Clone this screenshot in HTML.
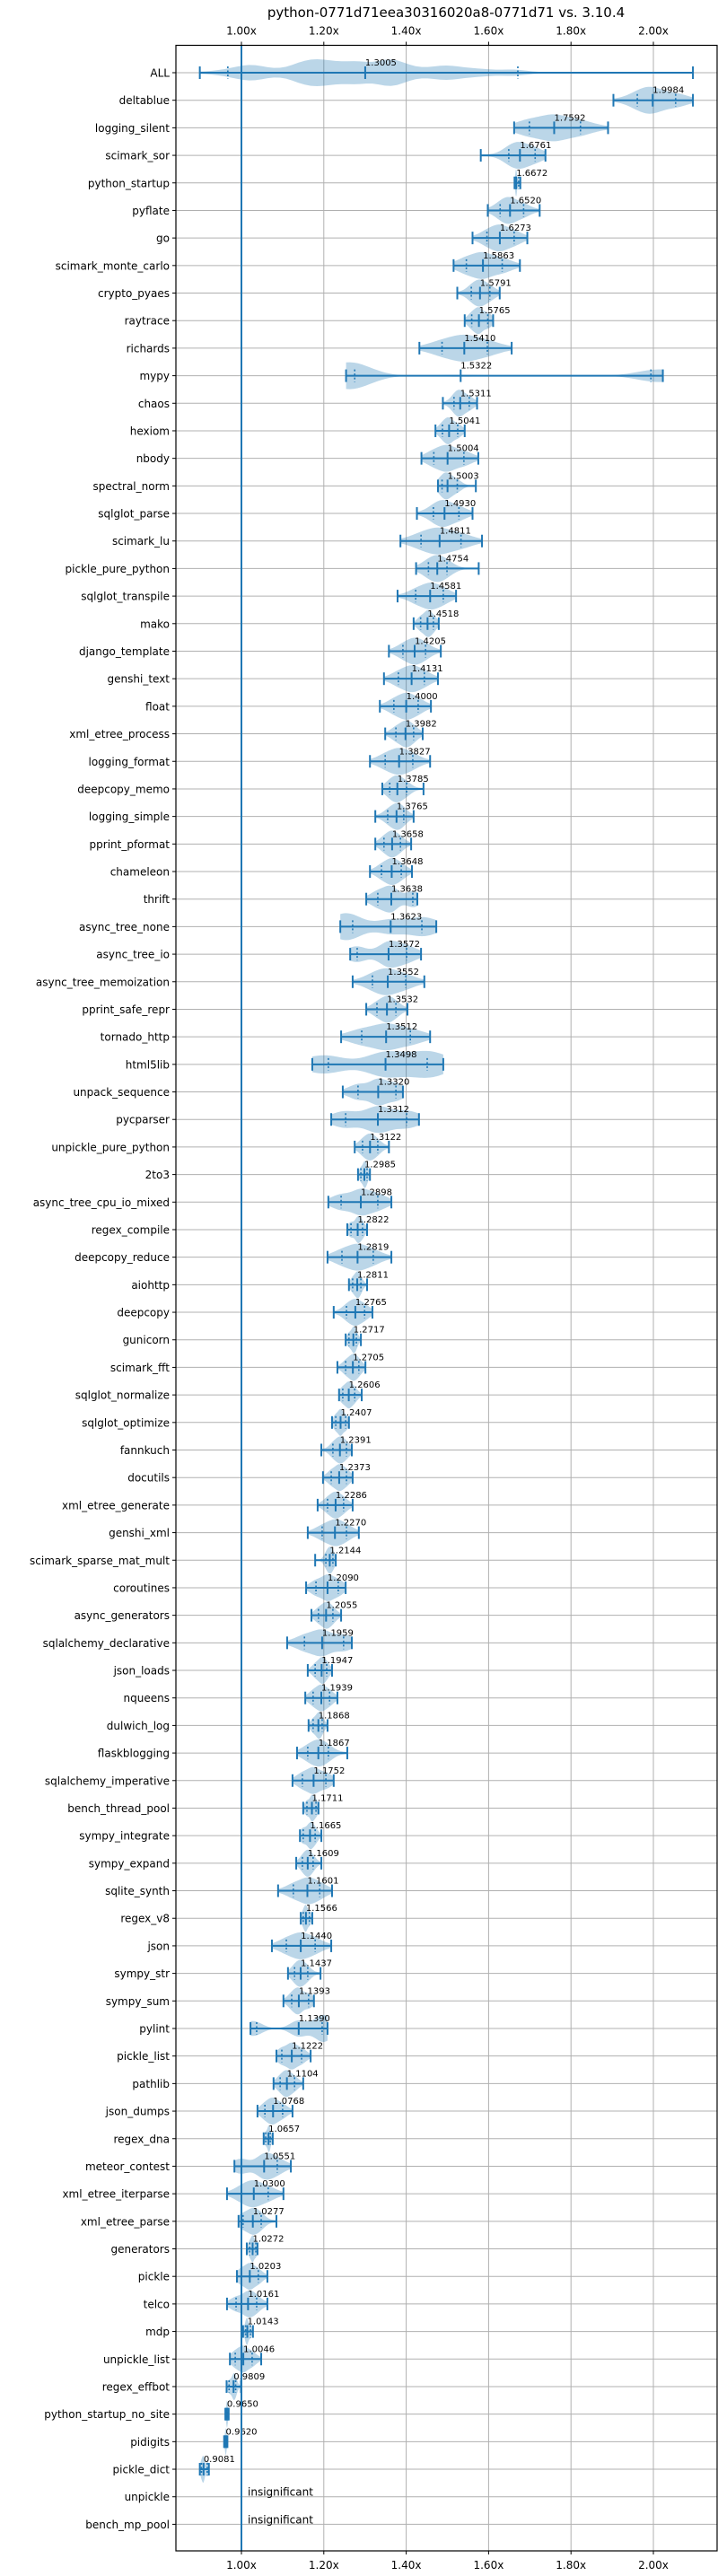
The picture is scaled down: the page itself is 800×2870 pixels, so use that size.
<!DOCTYPE html>
<html><head><meta charset="utf-8">
<style>
html,body{margin:0;padding:0;background:#fff;}
svg{display:block;font-family:"DejaVu Sans","Liberation Sans",sans-serif;}
</style></head>
<body>
<svg id="chart" width="800" height="2870" viewBox="0 0 800 2870" xmlns="http://www.w3.org/2000/svg">
<text x="497" y="19" text-anchor="middle" font-size="15" fill="#000">python-0771d71eea30316020a8-0771d71 vs. 3.10.4</text>
<g id="grid"></g>
<g id="marks"></g>
<g id="axes"></g>
</svg>
<script>
const names = ["ALL","deltablue","logging_silent","scimark_sor","python_startup","pyflate","go","scimark_monte_carlo","crypto_pyaes","raytrace","richards","mypy","chaos","hexiom","nbody","spectral_norm","sqlglot_parse","scimark_lu","pickle_pure_python","sqlglot_transpile","mako","django_template","genshi_text","float","xml_etree_process","logging_format","deepcopy_memo","logging_simple","pprint_pformat","chameleon","thrift","async_tree_none","async_tree_io","async_tree_memoization","pprint_safe_repr","tornado_http","html5lib","unpack_sequence","pycparser","unpickle_pure_python","2to3","async_tree_cpu_io_mixed","regex_compile","deepcopy_reduce","aiohttp","deepcopy","gunicorn","scimark_fft","sqlglot_normalize","sqlglot_optimize","fannkuch","docutils","xml_etree_generate","genshi_xml","scimark_sparse_mat_mult","coroutines","async_generators","sqlalchemy_declarative","json_loads","nqueens","dulwich_log","flaskblogging","sqlalchemy_imperative","bench_thread_pool","sympy_integrate","sympy_expand","sqlite_synth","regex_v8","json","sympy_str","sympy_sum","pylint","pickle_list","pathlib","json_dumps","regex_dna","meteor_contest","xml_etree_iterparse","xml_etree_parse","generators","pickle","telco","mdp","unpickle_list","regex_effbot","python_startup_no_site","pidigits","pickle_dict","unpickle","bench_mp_pool"];
const medians = [1.3005,1.9984,1.7592,1.6761,1.6672,1.6520,1.6273,1.5863,1.5791,1.5765,1.5410,1.5322,1.5311,1.5041,1.5004,1.5003,1.4930,1.4811,1.4754,1.4581,1.4518,1.4205,1.4131,1.4000,1.3982,1.3827,1.3785,1.3765,1.3658,1.3648,1.3638,1.3623,1.3572,1.3552,1.3532,1.3512,1.3498,1.3320,1.3312,1.3122,1.2985,1.2898,1.2822,1.2819,1.2811,1.2765,1.2717,1.2705,1.2606,1.2407,1.2391,1.2373,1.2286,1.2270,1.2144,1.2090,1.2055,1.1959,1.1947,1.1939,1.1868,1.1867,1.1752,1.1711,1.1665,1.1609,1.1601,1.1566,1.1440,1.1437,1.1393,1.1390,1.1222,1.1104,1.0768,1.0657,1.0551,1.0300,1.0277,1.0272,1.0203,1.0161,1.0143,1.0046,0.9809,0.9650,0.9620,0.9081,null,null];
const mins = [0.899,1.903,1.662,1.581,1.663,1.598,1.561,1.515,1.524,1.542,1.432,1.254,1.489,1.471,1.437,1.477,1.426,1.386,1.424,1.379,1.418,1.358,1.346,1.336,1.349,1.312,1.342,1.325,1.325,1.312,1.303,1.240,1.264,1.270,1.303,1.242,1.172,1.246,1.218,1.275,1.283,1.211,1.257,1.209,1.261,1.224,1.253,1.233,1.237,1.220,1.194,1.198,1.185,1.161,1.179,1.157,1.170,1.111,1.161,1.155,1.163,1.135,1.124,1.150,1.142,1.133,1.089,1.144,1.074,1.113,1.102,1.022,1.085,1.078,1.039,1.054,0.983,0.965,0.993,1.013,0.989,0.965,1.004,0.972,0.964,0.961,0.958,0.899,null,null];
const maxs = [2.096,2.096,1.890,1.738,1.677,1.724,1.694,1.676,1.627,1.611,1.656,2.023,1.572,1.542,1.575,1.569,1.561,1.584,1.576,1.521,1.479,1.484,1.477,1.460,1.440,1.458,1.442,1.418,1.412,1.414,1.427,1.473,1.436,1.444,1.403,1.458,1.490,1.392,1.431,1.358,1.312,1.364,1.305,1.364,1.305,1.318,1.290,1.301,1.292,1.261,1.268,1.270,1.270,1.285,1.229,1.253,1.242,1.268,1.220,1.233,1.209,1.257,1.224,1.187,1.194,1.194,1.220,1.172,1.218,1.192,1.176,1.209,1.168,1.150,1.124,1.076,1.120,1.102,1.085,1.039,1.063,1.063,1.028,1.048,0.999,0.969,0.966,0.921,null,null];
const q1s = [0.967,1.961,1.699,1.649,1.666,1.628,1.596,1.546,1.558,1.559,1.487,1.275,1.516,1.488,1.467,1.487,1.466,1.436,1.454,1.423,1.435,1.392,1.381,1.370,1.375,1.349,1.360,1.355,1.346,1.340,1.331,1.270,1.281,1.318,1.329,1.292,1.211,1.283,1.253,1.294,1.290,1.242,1.266,1.244,1.270,1.255,1.261,1.253,1.246,1.229,1.222,1.218,1.209,1.196,1.205,1.181,1.187,1.153,1.179,1.174,1.174,1.161,1.148,1.159,1.150,1.148,1.126,1.150,1.109,1.129,1.122,1.037,1.098,1.094,1.057,1.059,1.000,1.000,1.004,1.020,1.000,0.987,1.010,0.985,0.970,0.963,0.960,0.903,null,null];
const q3s = [1.671,2.054,1.823,1.713,1.673,1.685,1.662,1.633,1.603,1.598,1.597,1.994,1.553,1.525,1.540,1.524,1.528,1.533,1.499,1.490,1.466,1.447,1.444,1.429,1.418,1.416,1.401,1.394,1.386,1.388,1.416,1.438,1.401,1.399,1.375,1.410,1.451,1.375,1.401,1.331,1.305,1.331,1.294,1.320,1.290,1.299,1.279,1.285,1.275,1.253,1.255,1.255,1.248,1.255,1.222,1.235,1.222,1.248,1.207,1.214,1.196,1.211,1.205,1.181,1.179,1.174,1.190,1.165,1.179,1.161,1.163,1.196,1.146,1.129,1.100,1.070,1.087,1.065,1.048,1.035,1.041,1.037,1.022,1.026,0.986,0.967,0.964,0.917,null,null];
const xTickValues = [1.0,1.2,1.4,1.6,1.8,2.0];
const xTickLabels = ["1.00x","1.20x","1.40x","1.60x","1.80x","2.00x"];

const NS = "http://www.w3.org/2000/svg";
const PL = 196, PR = 799, PT = 50.5, PB = 2842;
function xs(v){ return 269 + 459*(v-1); }
function ys(i){ return 81 + 30.69*i; }
function mk(tag, attrs, parent){
  const e = document.createElementNS(NS, tag);
  for (const k in attrs) e.setAttribute(k, attrs[k]);
  parent.appendChild(e);
  return e;
}
const grid = document.getElementById('grid');
const marks = document.getElementById('marks');
const axes = document.getElementById('axes');
const BLUE = "#1f77b4";

xTickValues.forEach((v,k)=>{
  const l = mk('line',{x1:xs(v),x2:xs(v),y1:PT,y2:PB,stroke:"#b0b0b0","stroke-width":1},grid);
  
  
});
names.forEach((n,i)=>{
  const l = mk('line',{x1:PL,x2:PR,y1:ys(i),y2:ys(i),stroke:"#b0b0b0","stroke-width":1},grid);
  
  
});

function density(i, v){
  if (i === 0) {
    let s = 0; const bw = 0.03;
    medians.forEach(m=>{ if(m!==null){ const z=(v-m)/bw; s += Math.exp(-0.5*z*z);} });
    return s;
  }
  const pts = [mins[i], q1s[i], medians[i], q3s[i], maxs[i]];
  let w = [0.12,0.7,1.2,0.7,0.12];
  let bw = (maxs[i]-mins[i])/7;
  if (names[i] === 'mypy') { w = [1.3,0.8,0.15,0.3,0.7]; bw = 0.05; }
  if (names[i] === 'pylint') { w = [0.5,0.3,0.8,1.0,0.4]; bw = (maxs[i]-mins[i])/9; }
  if (names[i] === 'async_tree_none') { w = [0.8,0.7,0.7,0.8,0.2]; }
  if (names[i] === 'html5lib') { w = [0.3,0.6,1.1,1.0,0.2]; }
  let s = 0;
  pts.forEach((p,k)=>{ const z=(v-p)/Math.max(bw,1e-4); s += w[k]*Math.exp(-0.5*z*z); });
  return s;
}
names.forEach((n,i)=>{
  const yc = ys(i);
  if (medians[i] === null) {
    const t = mk('text',{x:276,y:yc-1,"font-size":12,fill:"#000"},marks);
    t.textContent = "insignificant";
    
    
    return;
  }
  const lo = mins[i], hi = maxs[i], N = 80;
  const vals = [];
  let mx = 0;
  for (let k=0;k<=N;k++){ const v = lo + (hi-lo)*k/N; const d = density(i,v); vals.push([v,d]); if(d>mx) mx=d; }
  const H = 15;
  let d = "";
  vals.forEach(([v,dd],k)=>{ d += (k?"L":"M") + xs(v).toFixed(2) + "," + (yc - H*dd/mx).toFixed(2); });
  for (let k=vals.length-1;k>=0;k--){ const [v,dd]=vals[k]; d += "L" + xs(v).toFixed(2) + "," + (yc + H*dd/mx).toFixed(2); }
  d += "Z";
  const p = mk('path',{d:d,fill:BLUE,"fill-opacity":0.3,stroke:"none"},marks);
  
  
  const wl = mk('line',{x1:xs(lo),x2:xs(hi),y1:yc,y2:yc,stroke:BLUE,"stroke-width":2},marks);
  
  
  [lo,hi,medians[i]].forEach(v=>{
    const c = mk('line',{x1:xs(v),x2:xs(v),y1:yc-7,y2:yc+7,stroke:BLUE,"stroke-width":2},marks);
    
    
  });
  [q1s[i],q3s[i]].forEach(v=>{
    const q = mk('line',{x1:xs(v),x2:xs(v),y1:yc-7,y2:yc+7,stroke:BLUE,"stroke-width":1.6,"stroke-dasharray":"2,2.5"},marks);
    
    
  });
  const t = mk('text',{x:xs(medians[i]),y:yc-8,"font-size":10,fill:"#000"},marks);
  t.textContent = medians[i].toFixed(4);
  
  
});

const bl = mk('line',{x1:xs(1),x2:xs(1),y1:PT,y2:PB,stroke:BLUE,"stroke-width":2},axes);



const fr = mk('rect',{x:PL,y:PT,width:PR-PL,height:PB-PT,fill:"none",stroke:"#000","stroke-width":1.2},axes);



xTickValues.forEach((v,k)=>{
  const tt = mk('line',{x1:xs(v),x2:xs(v),y1:PT-4,y2:PT,stroke:"#000","stroke-width":1},axes);
  
  
  const tb = mk('line',{x1:xs(v),x2:xs(v),y1:PB,y2:PB+4,stroke:"#000","stroke-width":1},axes);
  
  
  const lt = mk('text',{x:xs(v),y:PT-12,"text-anchor":"middle","font-size":12,fill:"#000"},axes);
  lt.textContent = xTickLabels[k];
  
  
  const lb = mk('text',{x:xs(v),y:PB+20,"text-anchor":"middle","font-size":12,fill:"#000"},axes);
  lb.textContent = xTickLabels[k];
  
  
});

names.forEach((n,i)=>{
  const tk = mk('line',{x1:PL-4,x2:PL,y1:ys(i),y2:ys(i),stroke:"#000","stroke-width":1},axes);
  
  
  const t = mk('text',{x:PL-7,y:ys(i)+4.5,"text-anchor":"end","font-size":12,fill:"#000"},axes);
  t.textContent = n;
  
  
});
</script>
</body></html>
